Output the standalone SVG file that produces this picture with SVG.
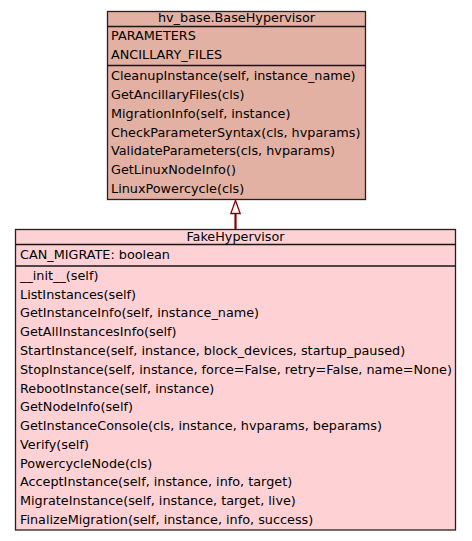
<svg xmlns="http://www.w3.org/2000/svg" width="472" height="541" viewBox="0 0 472 541">
<style>
text{font-family:"DejaVu Sans","Liberation Sans",sans-serif;font-size:12.8px;fill:#000}
.hd{text-anchor:middle}
.box{stroke:#2a1f1f;stroke-width:1.3}
.base{fill:#e2b1a3}
.fake{fill:#fed2d5}
.sep{stroke:#1a1414;stroke-width:1.3}
</style>
<rect width="472" height="541" fill="#fff"/>
<g id="connectors">
<line x1="235.5" y1="213" x2="235.5" y2="229" stroke="#8b0000" stroke-width="2.2"/>
<polygon points="235.5,200.5 230.8,213.5 240.2,213.5" fill="#fff" stroke="#8b0000" stroke-width="1.3"/>
</g>
<g id="BaseHypervisor">
<rect class="box base" x="107.5" y="11.5" width="258" height="188"/>
<line class="sep" x1="107.5" y1="26.5" x2="365.5" y2="26.5"/>
<line class="sep" x1="107.5" y1="65.5" x2="365.5" y2="65.5"/>
<text class="hd" x="236.5" y="22">hv_base.BaseHypervisor</text>
<text x="111" y="40">PARAMETERS</text>
<text x="111" y="59">ANCILLARY_FILES</text>
<text x="111" y="80">CleanupInstance(self, instance_name)</text>
<text x="111" y="99">GetAncillaryFiles(cls)</text>
<text x="111" y="117.5">MigrationInfo(self, instance)</text>
<text x="111" y="136.5">CheckParameterSyntax(cls, hvparams)</text>
<text x="111" y="155">ValidateParameters(cls, hvparams)</text>
<text x="111" y="174">GetLinuxNodeInfo()</text>
<text x="111" y="192.5">LinuxPowercycle(cls)</text>
</g>
<g id="FakeHypervisor">
<rect class="box fake" x="15.5" y="229.5" width="440" height="300.5"/>
<line class="sep" x1="15.5" y1="244.5" x2="455.5" y2="244.5"/>
<line class="sep" x1="15.5" y1="266" x2="455.5" y2="266"/>
<text class="hd" x="235.5" y="240.5">FakeHypervisor</text>
<text x="20" y="259">CAN_MIGRATE: boolean</text>
<text x="20" y="279.5">__init__(self)</text>
<text x="20" y="298.5">ListInstances(self)</text>
<text x="20" y="317">GetInstanceInfo(self, instance_name)</text>
<text x="20" y="336">GetAllInstancesInfo(self)</text>
<text x="20" y="354.5">StartInstance(self, instance, block_devices, startup_paused)</text>
<text x="20" y="373.5">StopInstance(self, instance, force=False, retry=False, name=None)</text>
<text x="20" y="392.5">RebootInstance(self, instance)</text>
<text x="20" y="411">GetNodeInfo(self)</text>
<text x="20" y="430">GetInstanceConsole(cls, instance, hvparams, beparams)</text>
<text x="20" y="448.5">Verify(self)</text>
<text x="20" y="467.5">PowercycleNode(cls)</text>
<text x="20" y="486">AcceptInstance(self, instance, info, target)</text>
<text x="20" y="505">MigrateInstance(self, instance, target, live)</text>
<text x="20" y="523.5">FinalizeMigration(self, instance, info, success)</text>
</g>
</svg>
